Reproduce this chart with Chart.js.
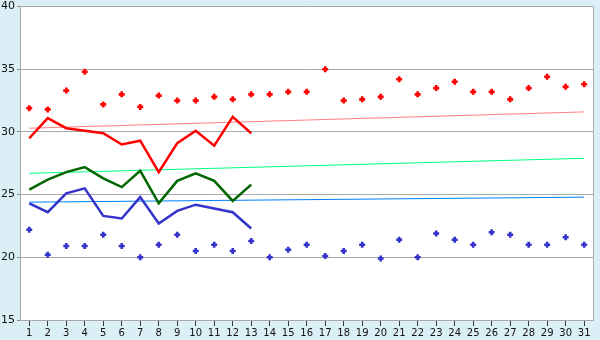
<!DOCTYPE html>
<html>
<head>
<meta charset="utf-8">
<script src="https://cdn.jsdelivr.net/npm/chart.js@4/dist/chart.umd.min.js"></script>
<style>
  html, body { margin: 0; padding: 0; background: #daeff6; }
  #wrap { width: 600px; height: 340px; }
</style>
</head>
<body>
<div id="wrap"><canvas id="c" width="600" height="340"></canvas></div>
<script>
const days = ['1','2','3','4','5','6','7','8','9','10','11','12','13','14','15','16','17','18','19','20','21','22','23','24','25','26','27','28','29','30','31'];
const yTicks = [15, 20, 25, 30, 35, 40];

const maxPoints = [31.9,31.8,33.3,34.8,32.2,33.0,32.0,32.9,32.5,32.5,32.8,32.6,33.0,33.0,33.2,33.2,35.0,32.5,32.6,32.8,34.2,33.0,33.5,34.0,33.2,33.2,32.6,33.5,34.4,33.6,33.8];
const minPoints = [22.2,20.2,20.9,20.9,21.8,20.9,20.0,21.0,21.8,20.5,21.0,20.5,21.3,20.0,20.6,21.0,20.1,20.5,21.0,19.9,21.4,20.0,21.9,21.4,21.0,22.0,21.8,21.0,21.0,21.6,21.0];

const maxLine = [29.5,31.1,30.3,30.1,29.9,29.0,29.3,26.8,29.1,30.1,28.9,31.2,29.9];
const avgLine = [25.4,26.2,26.8,27.2,26.3,25.6,26.9,24.3,26.1,26.7,26.1,24.5,25.8];
const minLine = [24.3,23.6,25.1,25.5,23.3,23.1,24.8,22.7,23.7,24.2,23.9,23.6,22.3];

const maxTrendEnds = [30.3, 31.6];
const avgTrendEnds = [26.7, 27.9];
const minTrendEnds = [24.4, 24.8];

function ends(pair) {
  return days.map((d, i) => i === 0 ? pair[0] : (i === days.length - 1 ? pair[1] : null));
}

const bgPlugin = {
  id: 'bg',
  beforeDraw(chart) {
    const { ctx, chartArea: a } = chart;
    ctx.save();
    ctx.fillStyle = '#daeff6';
    ctx.fillRect(0, 0, chart.width, chart.height);
    ctx.fillStyle = '#ffffff';
    ctx.fillRect(a.left, a.top, a.right - a.left, a.bottom - a.top);
    ctx.restore();
  },
  afterDraw(chart) {
    const { ctx, chartArea: a } = chart;
    ctx.save();
    ctx.strokeStyle = '#aaaaaa';
    ctx.lineWidth = 1;
    ctx.beginPath();
    ctx.moveTo(Math.round(a.right) + 0.5, a.top);
    ctx.lineTo(Math.round(a.right) + 0.5, a.bottom);
    ctx.stroke();
    ctx.restore();
  }
};

const lineDs = (data, color, width, order) => ({
  type: 'line', data, borderColor: color, backgroundColor: color, borderWidth: width,
  pointRadius: 0, fill: false, tension: 0, spanGaps: true, order
});
const dotDs = (data, color) => ({
  type: 'line', data, showLine: false, borderColor: color, backgroundColor: color,
  pointStyle: 'cross', pointRadius: 3, borderWidth: 2.6, order: 0
});

new Chart(document.getElementById('c'), {
  type: 'line',
  data: {
    labels: days,
    datasets: [
      lineDs(ends(maxTrendEnds), '#ff8080', 1, 5),
      lineDs(ends(avgTrendEnds), '#00ff80', 1, 5),
      lineDs(ends(minTrendEnds), '#0080ff', 1, 5),
      lineDs(maxLine, '#ff0000', 2.5, 3),
      lineDs(avgLine, '#006600', 2.5, 3),
      lineDs(minLine, '#3333cc', 2.5, 3),
      dotDs(maxPoints, '#ff0000'),
      dotDs(minPoints, '#3333cc')
    ]
  },
  options: {
    responsive: false,
    animation: false,
    layout: { padding: { top: 5, right: 5, left: 0, bottom: 0 } },
    plugins: { legend: { display: false }, tooltip: { enabled: false } },
    scales: {
      x: {
        type: 'category',
        offset: true,
        grid: { display: true, drawOnChartArea: false, tickLength: 6, tickColor: '#333333', color: '#333333' },
        border: { display: true, color: '#aaaaaa' },
        ticks: { color: '#111111', font: { family: 'DejaVu Sans', size: 10 }, padding: 1, maxRotation: 0, autoSkip: false },
        afterFit(s) { s.height = 20; s.paddingLeft = 0; s.paddingRight = 0; }
      },
      y: {
        min: 15, max: 40,
        afterBuildTicks(s) { s.ticks = yTicks.map(v => ({ value: v })); },
        grid: { color: '#aaaaaa', tickLength: 3, tickColor: '#888888' },
        border: { display: true, color: '#aaaaaa' },
        ticks: { color: '#111111', font: { family: 'DejaVu Sans', size: 11 }, padding: 2 },
        afterFit(s) { s.width = 20; s.paddingTop = 0; s.paddingBottom = 0; }
      }
    }
  },
  plugins: [bgPlugin]
});
</script>
</body>
</html>
